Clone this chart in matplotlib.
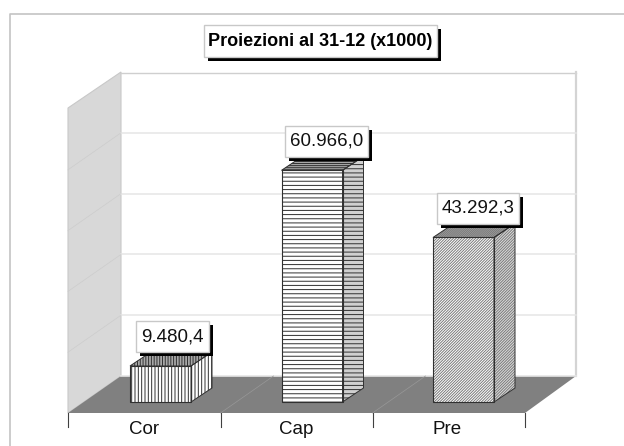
import matplotlib
matplotlib.use("Agg")
import numpy as np
import matplotlib.pyplot as plt
from matplotlib.patches import Polygon, Rectangle
from matplotlib.transforms import IdentityTransform

categories = ["Cor", "Cap", "Pre"]
values = [9480.4, 60966.0, 43292.3]
value_labels = ["9.480,4", "60.966,0", "43.292,3"]
grid_values = [0, 16000, 32000, 48000, 64000, 80000]
title_text = "Proiezioni al 31-12 (x1000)"

W, H = 624, 446
CAT_PX = 151.5      # px between categories
VAL_PX = 3.8 / 1000 # px per unit
X0_PX = 160.5       # px of first bar centre
Y0_PX = 402         # px of the bar base
DX_PX, DY_PX = 21, 14   # bar depth
BAR_W = 61 / CAT_PX

plt.rcParams["font.family"] = ["Liberation Sans", "DejaVu Sans"]
plt.rcParams["hatch.linewidth"] = 0.7


def val_y_px(v):
    return 376 - v * VAL_PX


def draw_box(ax, txt, pad_x, y_mid_px, h_px, shadow=4):
    # white label box with a hard black shadow, sized from the text
    fig = ax.figure
    ext = txt.get_window_extent(fig.canvas.get_renderer())
    x0 = ext.x0 - pad_x
    w = ext.width + 2 * pad_x
    y0 = H - y_mid_px - h_px / 2
    ax.add_patch(Rectangle((x0 + shadow, y0 - shadow), w, h_px, transform=IdentityTransform(),
                           facecolor="black", edgecolor="none", zorder=20, clip_on=False))
    ax.add_patch(Rectangle((x0, y0), w, h_px, transform=IdentityTransform(),
                           facecolor="white", edgecolor="#c8c8c8", linewidth=1.0, zorder=21, clip_on=False))


def main():
    fig = plt.figure(figsize=(W / 100, H / 100), dpi=100)
    fig.patch.set_facecolor("white")

    # pixel layer: frame, walls, floor
    ax = fig.add_axes([0, 0, 1, 1])
    ax.set_xlim(0, W)
    ax.set_ylim(H, 0)
    ax.axis("off")

    ax.plot([10, 10, W], [H, 13.5, 13.5], color="#c4c4c4", linewidth=1.2, zorder=1)

    ax.add_patch(Polygon([(68, 108), (121, 72), (121, 376), (68, 413)], closed=True,
                         facecolor="#d8d8d8", edgecolor="#c8c8c8", linewidth=0.8, zorder=2))
    ax.plot([121, 576], [72.5, 72.5], color="#cfcfcf", linewidth=1.0, zorder=2)
    ax.plot([576, 576], [72, 376], color="#d4d4d4", linewidth=1.6, zorder=2)

    for g in grid_values[1:-1]:
        y = val_y_px(g)
        ax.plot([121, 576], [y, y], color="#e6e6e6", linewidth=1.1, zorder=2)
        ax.plot([68, 121], [y + 37, y], color="#cccccc", linewidth=0.5, zorder=3)

    ax.add_patch(Polygon([(68, 413), (121, 376), (576, 376), (525, 413)], closed=True,
                         facecolor="#808080", edgecolor="none", zorder=3))
    ax.plot([121, 576], [376, 376], color="#e6e6e6", linewidth=1.2, zorder=3)

    tick_x = [68, 220.5, 372.5, 525]
    for k, tx in enumerate(tick_x):
        ax.plot([tx, tx], [413, 427], color="#404040", linewidth=0.8, zorder=4)
        if 0 < k < 3:
            ax.plot([tx, tx + 53], [413, 376], color="#989898", linewidth=0.5, zorder=4)

    # value layer: bars drawn from the data
    ax_val = fig.add_axes([0, 0, 1, 1], facecolor="none")
    ax_val.set_xlim(-X0_PX / CAT_PX, (W - X0_PX) / CAT_PX)
    ax_val.set_ylim(-(H - Y0_PX) / VAL_PX, Y0_PX / VAL_PX)
    ax_val.axis("off")

    pos = np.arange(len(categories))
    hatches = ["|||||", "----", "/" * 12]
    top_hatches = ["||||||", "--------", "/" * 16]
    hatch_colors = ["#303030", "#303030", "#7a7a7a"]
    side_faces = ["white", "#d0d0d0", "#dddddd"]
    dx = DX_PX / CAT_PX
    dy = DY_PX / VAL_PX

    ax_val.bar(pos, values, BAR_W, color="white", edgecolor=hatch_colors, linewidth=0,
               hatch=hatches, zorder=5)
    ax_val.bar(pos, values, BAR_W, fill=False, edgecolor="#303030", linewidth=0.8, zorder=6)

    for p, v, h, th, sf, hc in zip(pos, values, hatches, top_hatches, side_faces, hatch_colors):
        xl, xr = p - BAR_W / 2, p + BAR_W / 2
        side = [(xr, 0), (xr + dx, dy), (xr + dx, v + dy), (xr, v)]
        top = [(xl, v), (xl + dx, v + dy), (xr + dx, v + dy), (xr, v)]
        ax_val.add_patch(Polygon(side, closed=True, facecolor=sf, edgecolor=hc, linewidth=0, hatch=h, zorder=5))
        ax_val.add_patch(Polygon(top, closed=True, facecolor="#a8a8a8", edgecolor=hc, linewidth=0, hatch=th, zorder=5))
        ax_val.add_patch(Polygon(side, closed=True, fill=False, edgecolor="#303030", linewidth=0.7, zorder=6))
        ax_val.add_patch(Polygon(top, closed=True, fill=False, edgecolor="#303030", linewidth=0.7, zorder=6))

    fig.canvas.draw()

    # value labels
    label_dx = [12, 14.5, 14.5]
    for p, v, lab, ldx in zip(pos, values, value_labels, label_dx):
        txt = ax_val.annotate(lab, xy=(p, v), xytext=(ldx, 29), textcoords="offset pixels",
                              ha="center", va="center", fontsize=13.5, color="#111111", zorder=22)
        y_mid = Y0_PX - v * VAL_PX - 29
        draw_box(ax_val, txt, 5, y_mid, 31)

    # title box
    title = ax_val.text(320.5 / W, 1 - 41 / H, title_text, transform=ax_val.transAxes,
                        ha="center", va="center", fontsize=13, fontweight="bold",
                        color="black", zorder=22)
    draw_box(ax_val, title, 4, 41, 32)

    # category labels
    for p, c in zip(pos, categories):
        ax_val.annotate(c, xy=(p, 0), xytext=(-16, -32), textcoords="offset pixels",
                        ha="center", va="baseline", fontsize=13.5, color="#111111", zorder=6)

    fig.savefig("out.png", dpi=100)
    plt.close(fig)


if __name__ == "__main__":
    main()
